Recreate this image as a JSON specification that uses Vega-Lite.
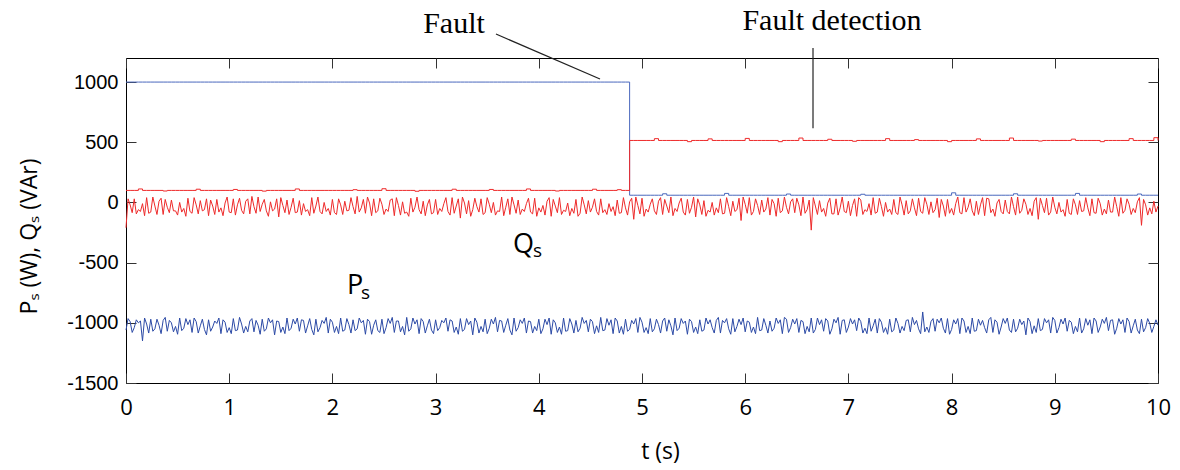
{
  "$schema": "https://vega.github.io/schema/vega-lite/v6.json",
  "width": 1032,
  "height": 325,
  "autosize": {"type": "none"},
  "padding": {"left": 126, "top": 58, "right": 22, "bottom": 87},
  "background": "white",
  "config": {"view": {"stroke": "black", "strokeWidth": 1}},
  "resolve": {"axis": {"x": "independent", "y": "independent"}},
  "datasets": {
    "main": [
{"t":0,"a":1000,"b":100,"q":-210,"p":-1060},
{"t":0.04,"a":1000,"b":100,"q":-20,"p":-990},
{"t":0.08,"a":1000,"b":100,"q":30,"p":-1040},
{"t":0.12,"a":1000,"b":112,"q":-60,"p":-1000},
{"t":0.16,"a":1000,"b":100,"q":-10,"p":-1150},
{"t":0.2,"a":1000,"b":100,"q":40,"p":-1010},
{"t":0.24,"a":1000,"b":100,"q":-80,"p":-970},
{"t":0.28,"a":1000,"b":100,"q":-30,"p":-1050},
{"t":0.32,"a":1000,"b":100,"q":10,"p":-1020},
{"t":0.36,"a":1000,"b":95,"q":-100,"p":-980},
{"t":0.4,"a":1000,"b":100,"q":-40,"p":-1070},
{"t":0.44,"a":1000,"b":100,"q":20,"p":-1000},
{"t":0.48,"a":1000,"b":100,"q":-70,"p":-1030},
{"t":0.52,"a":1000,"b":100,"q":0,"p":-960},
{"t":0.56,"a":1000,"b":100,"q":-50,"p":-1045},
{"t":0.6,"a":1000,"b":100,"q":35,"p":-1015},
{"t":0.64,"a":1000,"b":100,"q":-90,"p":-1080},
{"t":0.68,"a":1000,"b":110,"q":-20,"p":-990},
{"t":0.72,"a":1000,"b":100,"q":15,"p":-1025},
{"t":0.76,"a":1000,"b":100,"q":-60,"p":-1055},
{"t":0.8,"a":1000,"b":100,"q":-110,"p":-975},
{"t":0.84,"a":1000,"b":100,"q":-30,"p":-1035},
{"t":0.88,"a":1000,"b":100,"q":25,"p":-1005},
{"t":0.92,"a":1000,"b":100,"q":-45,"p":-1090},
{"t":0.96,"a":1000,"b":100,"q":-5,"p":-995},
{"t":1,"a":1000,"b":100,"q":-80,"p":-1040},
{"t":1.04,"a":1000,"b":108,"q":30,"p":-965},
{"t":1.08,"a":1000,"b":100,"q":-20,"p":-1060},
{"t":1.12,"a":1000,"b":100,"q":-65,"p":-1010},
{"t":1.16,"a":1000,"b":100,"q":10,"p":-1030},
{"t":1.2,"a":1000,"b":100,"q":-95,"p":-985},
{"t":1.24,"a":1000,"b":100,"q":-35,"p":-1075},
{"t":1.28,"a":1000,"b":100,"q":45,"p":-1020},
{"t":1.32,"a":1000,"b":94,"q":-15,"p":-970},
{"t":1.36,"a":1000,"b":100,"q":-70,"p":-1050},
{"t":1.4,"a":1000,"b":100,"q":5,"p":-1000},
{"t":1.44,"a":1000,"b":100,"q":-55,"p":-1100},
{"t":1.48,"a":1000,"b":100,"q":-120,"p":-990},
{"t":1.52,"a":1000,"b":100,"q":-25,"p":-1035},
{"t":1.56,"a":1000,"b":100,"q":20,"p":-960},
{"t":1.6,"a":1000,"b":100,"q":-40,"p":-1045},
{"t":1.64,"a":1000,"b":112,"q":-85,"p":-1010},
{"t":1.68,"a":1000,"b":100,"q":15,"p":-1070},
{"t":1.72,"a":1000,"b":100,"q":-10,"p":-980},
{"t":1.76,"a":1000,"b":100,"q":-60,"p":-1025},
{"t":1.8,"a":1000,"b":100,"q":40,"p":-1055},
{"t":1.84,"a":1000,"b":100,"q":-30,"p":-970},
{"t":1.88,"a":1000,"b":100,"q":-75,"p":-1040},
{"t":1.92,"a":1000,"b":100,"q":0,"p":-1005},
{"t":1.96,"a":1000,"b":100,"q":-50,"p":-1085},
{"t":2,"a":1000,"b":100,"q":25,"p":-995},
{"t":2.04,"a":1000,"b":100,"q":-100,"p":-1030},
{"t":2.08,"a":1000,"b":100,"q":-20,"p":-960},
{"t":2.12,"a":1000,"b":100,"q":10,"p":-1060},
{"t":2.16,"a":1000,"b":100,"q":-65,"p":-1015},
{"t":2.2,"a":1000,"b":106,"q":-35,"p":-975},
{"t":2.24,"a":1000,"b":100,"q":50,"p":-1050},
{"t":2.28,"a":1000,"b":100,"q":-45,"p":-1000},
{"t":2.32,"a":1000,"b":100,"q":-90,"p":-1095},
{"t":2.36,"a":1000,"b":100,"q":-5,"p":-990},
{"t":2.4,"a":1000,"b":100,"q":30,"p":-1020},
{"t":2.44,"a":1000,"b":100,"q":-70,"p":-1065},
{"t":2.48,"a":1000,"b":114,"q":-15,"p":-970},
{"t":2.52,"a":1000,"b":100,"q":-55,"p":-1040},
{"t":2.56,"a":1000,"b":100,"q":20,"p":-1005},
{"t":2.6,"a":1000,"b":100,"q":-110,"p":-1080},
{"t":2.64,"a":1000,"b":100,"q":-25,"p":-985},
{"t":2.68,"a":1000,"b":100,"q":5,"p":-1030},
{"t":2.72,"a":1000,"b":100,"q":-80,"p":-955},
{"t":2.76,"a":1000,"b":100,"q":35,"p":-1050},
{"t":2.8,"a":1000,"b":93,"q":-40,"p":-1010},
{"t":2.84,"a":1000,"b":100,"q":-60,"p":-1090},
{"t":2.88,"a":1000,"b":100,"q":10,"p":-990},
{"t":2.92,"a":1000,"b":100,"q":-20,"p":-1025},
{"t":2.96,"a":1000,"b":100,"q":-95,"p":-1060},
{"t":3,"a":1000,"b":100,"q":25,"p":-975},
{"t":3.04,"a":1000,"b":100,"q":-50,"p":-1040},
{"t":3.08,"a":1000,"b":100,"q":-10,"p":-1000},
{"t":3.12,"a":1000,"b":100,"q":-75,"p":-1070},
{"t":3.16,"a":1000,"b":110,"q":40,"p":-985},
{"t":3.2,"a":1000,"b":100,"q":-30,"p":-1035},
{"t":3.24,"a":1000,"b":100,"q":-130,"p":-965},
{"t":3.28,"a":1000,"b":100,"q":-5,"p":-1055},
{"t":3.32,"a":1000,"b":100,"q":15,"p":-1015},
{"t":3.36,"a":1000,"b":100,"q":-60,"p":-1100},
{"t":3.4,"a":1000,"b":100,"q":-35,"p":-995},
{"t":3.44,"a":1000,"b":100,"q":30,"p":-1030},
{"t":3.48,"a":1000,"b":100,"q":-85,"p":-970},
{"t":3.52,"a":1000,"b":108,"q":-15,"p":-1045},
{"t":3.56,"a":1000,"b":100,"q":0,"p":-1010},
{"t":3.6,"a":1000,"b":100,"q":-70,"p":-1075},
{"t":3.64,"a":1000,"b":100,"q":45,"p":-985},
{"t":3.68,"a":1000,"b":100,"q":-40,"p":-1020},
{"t":3.72,"a":1000,"b":100,"q":-100,"p":-1060},
{"t":3.76,"a":1000,"b":100,"q":-20,"p":-960},
{"t":3.8,"a":1000,"b":100,"q":20,"p":-1040},
{"t":3.84,"a":1000,"b":100,"q":-55,"p":-1005},
{"t":3.88,"a":1000,"b":112,"q":-10,"p":-1085},
{"t":3.92,"a":1000,"b":100,"q":-80,"p":-990},
{"t":3.96,"a":1000,"b":100,"q":35,"p":-1030},
{"t":4,"a":1000,"b":100,"q":-45,"p":-970},
{"t":4.04,"a":1000,"b":100,"q":-25,"p":-1050},
{"t":4.08,"a":1000,"b":100,"q":10,"p":-1015},
{"t":4.12,"a":1000,"b":100,"q":-115,"p":-1095},
{"t":4.16,"a":1000,"b":95,"q":-30,"p":-1000},
{"t":4.2,"a":1000,"b":100,"q":40,"p":-1035},
{"t":4.24,"a":1000,"b":100,"q":-65,"p":-960},
{"t":4.28,"a":1000,"b":100,"q":-5,"p":-1065},
{"t":4.32,"a":1000,"b":100,"q":-50,"p":-1010},
{"t":4.36,"a":1000,"b":100,"q":25,"p":-980},
{"t":4.4,"a":1000,"b":100,"q":-90,"p":-1045},
{"t":4.44,"a":1000,"b":100,"q":-20,"p":-1005},
{"t":4.48,"a":1000,"b":100,"q":15,"p":-1075},
{"t":4.52,"a":1000,"b":110,"q":-40,"p":-990},
{"t":4.56,"a":1000,"b":100,"q":-75,"p":-1025},
{"t":4.6,"a":1000,"b":100,"q":30,"p":-955},
{"t":4.64,"a":1000,"b":100,"q":-60,"p":-1060},
{"t":4.68,"a":1000,"b":100,"q":-10,"p":-1020},
{"t":4.72,"a":1000,"b":100,"q":-35,"p":-1090},
{"t":4.76,"a":1000,"b":106,"q":20,"p":-985},
{"t":4.8,"a":1000,"b":100,"q":-85,"p":-1030},
{"t":4.84,"a":1000,"b":100,"q":-45,"p":-970},
{"t":4.88,"a":60,"b":515,"q":5,"p":-1055},
{"t":4.92,"a":60,"b":515,"q":-140,"p":-1010},
{"t":4.96,"a":60,"b":515,"q":-25,"p":-1080},
{"t":5,"a":60,"b":515,"q":35,"p":-995},
{"t":5.04,"a":60,"b":515,"q":-55,"p":-1040},
{"t":5.08,"a":60,"b":515,"q":-15,"p":-965},
{"t":5.12,"a":60,"b":530,"q":-70,"p":-1050},
{"t":5.16,"a":60,"b":515,"q":10,"p":-1015},
{"t":5.2,"a":72,"b":515,"q":-100,"p":-985},
{"t":5.24,"a":60,"b":515,"q":-30,"p":-1070},
{"t":5.28,"a":60,"b":515,"q":45,"p":-1025},
{"t":5.32,"a":60,"b":515,"q":-50,"p":-960},
{"t":5.36,"a":60,"b":515,"q":-5,"p":-1045},
{"t":5.4,"a":60,"b":515,"q":-80,"p":-1005},
{"t":5.44,"a":60,"b":505,"q":25,"p":-1095},
{"t":5.48,"a":60,"b":515,"q":-40,"p":-990},
{"t":5.52,"a":60,"b":515,"q":-120,"p":-1035},
{"t":5.56,"a":60,"b":515,"q":-20,"p":-975},
{"t":5.6,"a":60,"b":515,"q":15,"p":-1060},
{"t":5.64,"a":60,"b":528,"q":-65,"p":-1010},
{"t":5.68,"a":60,"b":515,"q":0,"p":-1040},
{"t":5.72,"a":60,"b":515,"q":-45,"p":-980},
{"t":5.76,"a":60,"b":515,"q":30,"p":-1085},
{"t":5.8,"a":75,"b":515,"q":-90,"p":-1000},
{"t":5.84,"a":60,"b":515,"q":-35,"p":-1050},
{"t":5.88,"a":60,"b":515,"q":10,"p":-965},
{"t":5.92,"a":60,"b":515,"q":-60,"p":-1030},
{"t":5.96,"a":60,"b":515,"q":-150,"p":-1015},
{"t":6,"a":60,"b":532,"q":-15,"p":-1075},
{"t":6.04,"a":60,"b":515,"q":40,"p":-995},
{"t":6.08,"a":60,"b":515,"q":-75,"p":-1035},
{"t":6.12,"a":60,"b":515,"q":-25,"p":-955},
{"t":6.16,"a":60,"b":515,"q":20,"p":-1060},
{"t":6.2,"a":60,"b":515,"q":-55,"p":-1020},
{"t":6.24,"a":60,"b":515,"q":-105,"p":-985},
{"t":6.28,"a":60,"b":515,"q":-10,"p":-1045},
{"t":6.32,"a":60,"b":505,"q":35,"p":-1005},
{"t":6.36,"a":60,"b":515,"q":-70,"p":-1090},
{"t":6.4,"a":70,"b":515,"q":-40,"p":-970},
{"t":6.44,"a":60,"b":515,"q":5,"p":-1040},
{"t":6.48,"a":60,"b":515,"q":-85,"p":-1010},
{"t":6.52,"a":60,"b":535,"q":-20,"p":-1080},
{"t":6.56,"a":60,"b":515,"q":45,"p":-990},
{"t":6.6,"a":60,"b":515,"q":-60,"p":-1030},
{"t":6.64,"a":60,"b":515,"q":-230,"p":-960},
{"t":6.68,"a":60,"b":515,"q":-30,"p":-1055},
{"t":6.72,"a":60,"b":515,"q":15,"p":-1015},
{"t":6.76,"a":60,"b":515,"q":-50,"p":-1070},
{"t":6.8,"a":60,"b":525,"q":-5,"p":-985},
{"t":6.84,"a":60,"b":515,"q":-95,"p":-1050},
{"t":6.88,"a":60,"b":515,"q":30,"p":-1000},
{"t":6.92,"a":60,"b":515,"q":-45,"p":-1095},
{"t":6.96,"a":60,"b":515,"q":-75,"p":-975},
{"t":7,"a":60,"b":515,"q":10,"p":-1035},
{"t":7.04,"a":60,"b":508,"q":-25,"p":-1010},
{"t":7.08,"a":60,"b":515,"q":-115,"p":-1065},
{"t":7.12,"a":68,"b":515,"q":20,"p":-990},
{"t":7.16,"a":60,"b":515,"q":-60,"p":-1045},
{"t":7.2,"a":60,"b":515,"q":-10,"p":-960},
{"t":7.24,"a":60,"b":515,"q":40,"p":-1025},
{"t":7.28,"a":60,"b":515,"q":-80,"p":-1085},
{"t":7.32,"a":60,"b":515,"q":-35,"p":-995},
{"t":7.36,"a":60,"b":530,"q":0,"p":-1040},
{"t":7.4,"a":60,"b":515,"q":-55,"p":-970},
{"t":7.44,"a":60,"b":515,"q":25,"p":-1060},
{"t":7.48,"a":60,"b":515,"q":-100,"p":-1005},
{"t":7.52,"a":60,"b":515,"q":-20,"p":-1030},
{"t":7.56,"a":60,"b":515,"q":15,"p":-980},
{"t":7.6,"a":60,"b":515,"q":-70,"p":-1075},
{"t":7.64,"a":60,"b":522,"q":-45,"p":-1015},
{"t":7.68,"a":60,"b":515,"q":35,"p":-1050},
{"t":7.72,"a":60,"b":515,"q":-90,"p":-910},
{"t":7.76,"a":60,"b":515,"q":-15,"p":-1035},
{"t":7.8,"a":60,"b":515,"q":5,"p":-990},
{"t":7.84,"a":60,"b":515,"q":-60,"p":-1070},
{"t":7.88,"a":60,"b":515,"q":-125,"p":-1000},
{"t":7.92,"a":60,"b":515,"q":-30,"p":-1045},
{"t":7.96,"a":60,"b":505,"q":25,"p":-965},
{"t":8,"a":80,"b":515,"q":-50,"p":-1055},
{"t":8.04,"a":60,"b":515,"q":-10,"p":-1010},
{"t":8.08,"a":60,"b":515,"q":-85,"p":-1090},
{"t":8.12,"a":60,"b":515,"q":40,"p":-985},
{"t":8.16,"a":60,"b":515,"q":-40,"p":-1030},
{"t":8.2,"a":60,"b":515,"q":-70,"p":-960},
{"t":8.24,"a":60,"b":528,"q":10,"p":-1065},
{"t":8.28,"a":60,"b":515,"q":-20,"p":-1020},
{"t":8.32,"a":60,"b":515,"q":-110,"p":-1040},
{"t":8.36,"a":60,"b":515,"q":30,"p":-975},
{"t":8.4,"a":60,"b":515,"q":-55,"p":-1080},
{"t":8.44,"a":60,"b":515,"q":-5,"p":-995},
{"t":8.48,"a":60,"b":515,"q":-75,"p":-1035},
{"t":8.52,"a":60,"b":515,"q":20,"p":-1005},
{"t":8.56,"a":60,"b":535,"q":-95,"p":-1060},
{"t":8.6,"a":72,"b":515,"q":-35,"p":-970},
{"t":8.64,"a":60,"b":515,"q":45,"p":-1045},
{"t":8.68,"a":60,"b":515,"q":-65,"p":-1015},
{"t":8.72,"a":60,"b":515,"q":-15,"p":-1100},
{"t":8.76,"a":60,"b":515,"q":-50,"p":-990},
{"t":8.8,"a":60,"b":515,"q":10,"p":-1025},
{"t":8.84,"a":60,"b":510,"q":-140,"p":-965},
{"t":8.88,"a":60,"b":515,"q":-25,"p":-1055},
{"t":8.92,"a":60,"b":515,"q":35,"p":-1000},
{"t":8.96,"a":60,"b":515,"q":-80,"p":-1085},
{"t":9,"a":60,"b":515,"q":-40,"p":-980},
{"t":9.04,"a":60,"b":515,"q":0,"p":-1040},
{"t":9.08,"a":60,"b":515,"q":-60,"p":-1010},
{"t":9.12,"a":60,"b":515,"q":25,"p":-1070},
{"t":9.16,"a":60,"b":526,"q":-100,"p":-995},
{"t":9.2,"a":75,"b":515,"q":-20,"p":-1030},
{"t":9.24,"a":60,"b":515,"q":15,"p":-960},
{"t":9.28,"a":60,"b":515,"q":-70,"p":-1050},
{"t":9.32,"a":60,"b":515,"q":-45,"p":-1020},
{"t":9.36,"a":60,"b":515,"q":30,"p":-1090},
{"t":9.4,"a":60,"b":515,"q":-90,"p":-985},
{"t":9.44,"a":60,"b":505,"q":-10,"p":-1035},
{"t":9.48,"a":60,"b":515,"q":-55,"p":-1005},
{"t":9.52,"a":60,"b":515,"q":20,"p":-1065},
{"t":9.56,"a":60,"b":515,"q":-80,"p":-975},
{"t":9.6,"a":60,"b":515,"q":-35,"p":-1045},
{"t":9.64,"a":60,"b":515,"q":40,"p":-1010},
{"t":9.68,"a":60,"b":515,"q":-65,"p":-1080},
{"t":9.72,"a":60,"b":530,"q":-15,"p":-990},
{"t":9.76,"a":60,"b":515,"q":-50,"p":-1025},
{"t":9.8,"a":70,"b":515,"q":5,"p":-1060},
{"t":9.84,"a":60,"b":515,"q":-190,"p":-970},
{"t":9.88,"a":60,"b":515,"q":-20,"p":-1040},
{"t":9.92,"a":60,"b":515,"q":-45,"p":-1005},
{"t":9.96,"a":60,"b":538,"q":10,"p":-1030},
{"t":10,"a":60,"b":515,"q":-30,"p":-1020},
{"t":0.02,"q":30,"p":-965},{"t":0.06,"q":-85,"p":-1080},{"t":0.1,"q":-95,"p":-975},{"t":0.14,"q":-75,"p":-985},{"t":0.18,"q":-110,"p":-960},{"t":0.22,"q":-90,"p":-1085},{"t":0.26,"q":45,"p":-1070},{"t":0.3,"q":-100,"p":-970},{"t":0.34,"q":35,"p":-1090},{"t":0.38,"q":25,"p":-955},
{"t":0.42,"q":-85,"p":-980},{"t":0.46,"q":-70,"p":-1075},{"t":0.5,"q":-105,"p":-1095},{"t":0.54,"q":-80,"p":-1065},{"t":0.58,"q":-115,"p":-965},{"t":0.62,"q":-75,"p":-975},{"t":0.66,"q":40,"p":-960},{"t":0.7,"q":-95,"p":-1085},{"t":0.74,"q":-70,"p":-970},{"t":0.78,"q":30,"p":-1100},
{"t":0.82,"q":20,"p":-1070},{"t":0.86,"q":-100,"p":-985},{"t":0.9,"q":-80,"p":-960},{"t":0.94,"q":-110,"p":-975},{"t":0.98,"q":45,"p":-1080},{"t":1.02,"q":-85,"p":-1090},{"t":1.06,"q":-105,"p":-1065},{"t":1.1,"q":35,"p":-955},{"t":1.14,"q":-95,"p":-1085},{"t":1.18,"q":30,"p":-1075},
{"t":1.22,"q":50,"p":-965},{"t":1.26,"q":-90,"p":-980},{"t":1.3,"q":-75,"p":-1095},{"t":1.34,"q":25,"p":-1070},{"t":1.38,"q":-115,"p":-960},{"t":1.42,"q":-70,"p":-975},{"t":1.46,"q":30,"p":-985},{"t":1.5,"q":40,"p":-1080},{"t":1.54,"q":-85,"p":-1090},{"t":1.58,"q":-100,"p":-1065},
{"t":1.62,"q":35,"p":-970},{"t":1.66,"q":-80,"p":-960},{"t":1.7,"q":-105,"p":-975},{"t":1.74,"q":-75,"p":-1085},{"t":1.78,"q":-110,"p":-965},{"t":1.82,"q":-90,"p":-1100},{"t":1.86,"q":45,"p":-1075},{"t":1.9,"q":-95,"p":-980},{"t":1.94,"q":-75,"p":-955},{"t":1.98,"q":-105,"p":-970},
{"t":2.02,"q":-85,"p":-1080},{"t":2.06,"q":30,"p":-1090},{"t":2.1,"q":-100,"p":-1070},{"t":2.14,"q":-70,"p":-965},{"t":2.18,"q":40,"p":-1085},{"t":2.22,"q":-95,"p":-1065},{"t":2.26,"q":-80,"p":-960},{"t":2.3,"q":25,"p":-980},{"t":2.34,"q":45,"p":-970},{"t":2.38,"q":-110,"p":-1095},
{"t":2.42,"q":-85,"p":-975},{"t":2.46,"q":35,"p":-1080},{"t":2.5,"q":-100,"p":-1090},{"t":2.54,"q":-75,"p":-965},{"t":2.58,"q":30,"p":-955},{"t":2.62,"q":40,"p":-985},{"t":2.66,"q":-105,"p":-1075},{"t":2.7,"q":-90,"p":-1100},{"t":2.74,"q":-115,"p":-1070},{"t":2.78,"q":-80,"p":-960},
{"t":2.82,"q":45,"p":-975},{"t":2.86,"q":-95,"p":-965},{"t":2.9,"q":-110,"p":-1085},{"t":2.94,"q":25,"p":-970},{"t":2.98,"q":-85,"p":-1090},{"t":3.02,"q":-100,"p":-1065},{"t":3.06,"q":-75,"p":-980},{"t":3.1,"q":40,"p":-960},{"t":3.14,"q":-105,"p":-975},{"t":3.18,"q":-90,"p":-1080},
{"t":3.22,"q":30,"p":-1095},{"t":3.26,"q":45,"p":-1070},{"t":3.3,"q":-95,"p":-965},{"t":3.34,"q":-115,"p":-985},{"t":3.38,"q":35,"p":-960},{"t":3.42,"q":-80,"p":-1085},{"t":3.46,"q":-100,"p":-1075},{"t":3.5,"q":40,"p":-1090},{"t":3.54,"q":-85,"p":-970},{"t":3.58,"q":-105,"p":-955},
{"t":3.62,"q":-75,"p":-980},{"t":3.66,"q":-110,"p":-1080},{"t":3.7,"q":30,"p":-965},{"t":3.74,"q":45,"p":-1100},{"t":3.78,"q":-90,"p":-1070},{"t":3.82,"q":-100,"p":-975},{"t":3.86,"q":-75,"p":-960},{"t":3.9,"q":35,"p":-985},{"t":3.94,"q":-95,"p":-1085},{"t":3.98,"q":-115,"p":-1065},
{"t":4.02,"q":-80,"p":-1090},{"t":4.06,"q":-105,"p":-970},{"t":4.1,"q":40,"p":-960},{"t":4.14,"q":25,"p":-975},{"t":4.18,"q":-85,"p":-1080},{"t":4.22,"q":-100,"p":-1095},{"t":4.26,"q":-75,"p":-1070},{"t":4.3,"q":-110,"p":-965},{"t":4.34,"q":-90,"p":-1085},{"t":4.38,"q":-115,"p":-1075},
{"t":4.42,"q":45,"p":-955},{"t":4.46,"q":-95,"p":-980},{"t":4.5,"q":-80,"p":-970},{"t":4.54,"q":30,"p":-1090},{"t":4.58,"q":-105,"p":-1080},{"t":4.62,"q":-85,"p":-1065},{"t":4.66,"q":-100,"p":-965},{"t":4.7,"q":-75,"p":-975},{"t":4.74,"q":-110,"p":-960},{"t":4.78,"q":-90,"p":-1085},
{"t":4.82,"q":40,"p":-1095},{"t":4.86,"q":-105,"p":-1070},{"t":4.9,"q":35,"p":-980},{"t":4.94,"q":45,"p":-965},{"t":4.98,"q":-95,"p":-955},{"t":5.02,"q":-115,"p":-1080},{"t":5.06,"q":-80,"p":-1090},{"t":5.1,"q":30,"p":-1075},{"t":5.14,"q":-100,"p":-970},{"t":5.18,"q":40,"p":-1085},
{"t":5.22,"q":25,"p":-960},{"t":5.26,"q":-85,"p":-975},{"t":5.3,"q":-110,"p":-1100},{"t":5.34,"q":-75,"p":-1065},{"t":5.38,"q":35,"p":-965},{"t":5.42,"q":-105,"p":-985},{"t":5.46,"q":-90,"p":-970},{"t":5.5,"q":45,"p":-1080},{"t":5.54,"q":30,"p":-1090},{"t":5.58,"q":-100,"p":-1070},
{"t":5.62,"q":-115,"p":-960},{"t":5.66,"q":-80,"p":-975},{"t":5.7,"q":-105,"p":-1085},{"t":5.74,"q":-85,"p":-955},{"t":5.78,"q":-95,"p":-980},{"t":5.82,"q":40,"p":-965},{"t":5.86,"q":-110,"p":-1095},{"t":5.9,"q":-75,"p":-1075},{"t":5.94,"q":35,"p":-970},{"t":5.98,"q":45,"p":-960},
{"t":6.02,"q":-90,"p":-985},{"t":6.06,"q":-105,"p":-1080},{"t":6.1,"q":30,"p":-1090},{"t":6.14,"q":-100,"p":-1065},{"t":6.18,"q":-80,"p":-965},{"t":6.22,"q":40,"p":-1085},{"t":6.26,"q":25,"p":-1070},{"t":6.3,"q":-115,"p":-960},{"t":6.34,"q":-85,"p":-975},{"t":6.38,"q":45,"p":-955},
{"t":6.42,"q":-95,"p":-1080},{"t":6.46,"q":30,"p":-970},{"t":6.5,"q":35,"p":-965},{"t":6.54,"q":-110,"p":-980},{"t":6.58,"q":-90,"p":-1090},{"t":6.62,"q":20,"p":-1075},{"t":6.66,"q":40,"p":-1085},{"t":6.7,"q":-100,"p":-960},{"t":6.74,"q":-80,"p":-975},{"t":6.78,"q":-115,"p":-965},
{"t":6.82,"q":35,"p":-1095},{"t":6.86,"q":-95,"p":-970},{"t":6.9,"q":-105,"p":-955},{"t":6.94,"q":45,"p":-980},{"t":6.98,"q":-85,"p":-1080},{"t":7.02,"q":-110,"p":-965},{"t":7.06,"q":30,"p":-975},{"t":7.1,"q":40,"p":-960},{"t":7.14,"q":-100,"p":-1085},{"t":7.18,"q":-75,"p":-1090},
{"t":7.22,"q":-105,"p":-1070},{"t":7.26,"q":-90,"p":-970},{"t":7.3,"q":35,"p":-965},{"t":7.34,"q":-115,"p":-1080},{"t":7.38,"q":-80,"p":-1095},{"t":7.42,"q":-100,"p":-1075},{"t":7.46,"q":-85,"p":-960},{"t":7.5,"q":45,"p":-1085},{"t":7.54,"q":-105,"p":-1065},{"t":7.58,"q":-95,"p":-975},
{"t":7.62,"q":30,"p":-955},{"t":7.66,"q":-110,"p":-980},{"t":7.7,"q":-75,"p":-1090},{"t":7.74,"q":40,"p":-1075},{"t":7.78,"q":-100,"p":-1080},{"t":7.82,"q":-85,"p":-965},{"t":7.86,"q":35,"p":-970},{"t":7.9,"q":25,"p":-960},{"t":7.94,"q":-115,"p":-1085},{"t":7.98,"q":-90,"p":-1095},
{"t":8.02,"q":-105,"p":-975},{"t":8.06,"q":45,"p":-965},{"t":8.1,"q":-95,"p":-960},{"t":8.14,"q":-80,"p":-1080},{"t":8.18,"q":30,"p":-1090},{"t":8.22,"q":-110,"p":-1070},{"t":8.26,"q":-100,"p":-970},{"t":8.3,"q":40,"p":-980},{"t":8.34,"q":35,"p":-1085},{"t":8.38,"q":-85,"p":-955},
{"t":8.42,"q":-115,"p":-975},{"t":8.46,"q":25,"p":-1095},{"t":8.5,"q":-95,"p":-965},{"t":8.54,"q":-75,"p":-960},{"t":8.58,"q":45,"p":-1080},{"t":8.62,"q":-105,"p":-1075},{"t":8.66,"q":-90,"p":-970},{"t":8.7,"q":30,"p":-985},{"t":8.74,"q":-100,"p":-960},{"t":8.78,"q":-110,"p":-1090},
{"t":8.82,"q":40,"p":-1080},{"t":8.86,"q":35,"p":-1065},{"t":8.9,"q":-85,"p":-965},{"t":8.94,"q":-105,"p":-975},{"t":8.98,"q":45,"p":-955},{"t":9.02,"q":-95,"p":-1085},{"t":9.06,"q":-80,"p":-970},{"t":9.1,"q":-115,"p":-960},{"t":9.14,"q":-90,"p":-980},{"t":9.18,"q":30,"p":-1090},
{"t":9.22,"q":-100,"p":-1075},{"t":9.26,"q":-75,"p":-1085},{"t":9.3,"q":40,"p":-965},{"t":9.34,"q":-110,"p":-975},{"t":9.38,"q":-85,"p":-960},{"t":9.42,"q":35,"p":-1080},{"t":9.46,"q":-105,"p":-970},{"t":9.5,"q":-95,"p":-955},{"t":9.54,"q":-80,"p":-980},{"t":9.58,"q":45,"p":-1095},
{"t":9.62,"q":-115,"p":-965},{"t":9.66,"q":-90,"p":-975},{"t":9.7,"q":30,"p":-960},{"t":9.74,"q":-100,"p":-1085},{"t":9.78,"q":-85,"p":-970},{"t":9.82,"q":40,"p":-1090},{"t":9.86,"q":25,"p":-1075},{"t":9.9,"q":-105,"p":-965},{"t":9.94,"q":-95,"p":-1080},{"t":9.98,"q":-80,"p":-975}
    ]
  },
  "layer": [
    {
      "data": {"name": "main"},
      "transform": [{"filter": "isValid(datum.a)"}, {"fold": ["a", "b"], "as": ["s", "v"]}],
      "mark": {"type": "line", "interpolate": "step-after", "strokeWidth": 1},
      "encoding": {
        "x": {"field": "t", "type": "quantitative", "scale": {"domain": [0, 10], "nice": false}, "axis": null},
        "y": {"field": "v", "type": "quantitative", "scale": {"domain": [-1500, 1200], "nice": false}, "axis": null},
        "color": {"field": "s", "type": "nominal",
                  "scale": {"domain": ["a", "b", "p", "q"], "range": ["#4a68bd", "#ee2a2a", "#2c4aa6", "#ee2a2a"]},
                  "legend": null},
        "detail": {"field": "s"}
      }
    },
    {
      "data": {"name": "main"},
      "transform": [{"fold": ["p", "q"], "as": ["s", "v"]}],
      "mark": {"type": "line", "interpolate": "linear", "strokeWidth": 1},
      "encoding": {
        "x": {"field": "t", "type": "quantitative",
              "scale": {"domain": [0, 10], "nice": false},
              "axis": {"orient": "bottom", "values": [0,1,2,3,4,5,6,7,8,9,10], "title": "t (s)",
                       "grid": false, "domain": false, "offset": -10,
                       "tickColor": "#333", "tickSize": 10, "tickWidth": 1,
                       "labelFont": "Open Sans", "labelFontSize": 22, "labelColor": "black",
                       "labelPadding": 14, "labelBaseline": "top", "labelFlush": false,
                       "titleFont": "Open Sans", "titleFontSize": 23, "titleFontWeight": "normal",
                       "titleColor": "black", "titleX": 534, "titleY": 85, "titleBaseline": "alphabetic"}},
        "y": {"field": "v", "type": "quantitative",
              "scale": {"domain": [-1500, 1200], "nice": false},
              "axis": {"orient": "left", "values": [-1500,-1000,-500,0,500,1000], "title": "Pₛ (W), Qₛ (VAr)",
                       "labelExpr": "'' + datum.value",
                       "grid": false, "domain": false, "offset": -10,
                       "tickColor": "#333", "tickSize": 10, "tickWidth": 1,
                       "labelFont": "Liberation Sans", "labelFontSize": 20, "labelColor": "black",
                       "labelPadding": 8, "labelFlush": false,
                       "titleFont": "Open Sans", "titleFontSize": 23, "titleFontWeight": "normal",
                       "titleColor": "black", "titleX": -100, "titleY": 178, "titleAngle": -90,
                       "titleAlign": "center", "titleBaseline": "alphabetic"}},
        "color": {"field": "s", "type": "nominal",
                  "scale": {"domain": ["a", "b", "p", "q"], "range": ["#4a68bd", "#ee2a2a", "#2c4aa6", "#ee2a2a"]},
                  "legend": null},
        "detail": {"field": "s"}
      }
    },
    {
      "data": {"values": [{"t": 0, "v": 0}]},
      "mark": {"type": "point", "opacity": 0},
      "encoding": {
        "x": {"field": "t", "type": "quantitative", "scale": {"domain": [0, 10], "nice": false},
              "axis": {"orient": "top", "values": [0,1,2,3,4,5,6,7,8,9,10], "labels": false, "title": null,
                       "grid": false, "domain": false, "offset": -10, "tickColor": "#333", "tickSize": 10}},
        "y": {"field": "v", "type": "quantitative", "scale": {"domain": [-1500, 1200], "nice": false},
              "axis": {"orient": "right", "values": [-1500,-1000,-500,0,500,1000], "labels": false, "title": null,
                       "grid": false, "domain": false, "offset": -10, "tickColor": "#333", "tickSize": 10}}
      }
    },
    {
      "data": {"values": [
        {"t": 3.585, "v": 1399, "t2": 4.593, "v2": 1025},
        {"t": 6.657, "v": 1283, "t2": 6.657, "v2": 617}
      ]},
      "mark": {"type": "rule", "color": "#222", "strokeWidth": 1.2},
      "encoding": {
        "x": {"field": "t", "type": "quantitative", "axis": null},
        "y": {"field": "v", "type": "quantitative", "axis": null},
        "x2": {"field": "t2"},
        "y2": {"field": "v2"}
      }
    },
    {
      "data": {"values": [
        {"t": 3.178, "v": 1407, "label": "Fault"},
        {"t": 6.841, "v": 1432, "label": "Fault detection"}
      ]},
      "mark": {"type": "text", "font": "Liberation Serif", "fontSize": 30, "align": "center", "baseline": "alphabetic", "color": "black"},
      "encoding": {
        "x": {"field": "t", "type": "quantitative", "axis": null},
        "y": {"field": "v", "type": "quantitative", "axis": null},
        "text": {"field": "label"}
      }
    },
    {
      "data": {"values": [
        {"t": 3.75, "v": -420, "label": "Q"},
        {"t": 2.141, "v": -761, "label": "P"}
      ]},
      "mark": {"type": "text", "font": "Open Sans", "fontSize": 27, "align": "left", "baseline": "alphabetic", "color": "black"},
      "encoding": {
        "x": {"field": "t", "type": "quantitative", "axis": null},
        "y": {"field": "v", "type": "quantitative", "axis": null},
        "text": {"field": "label"}
      }
    },
    {
      "data": {"values": [
        {"t": 3.944, "v": -454, "label": "s"},
        {"t": 2.277, "v": -803, "label": "s"}
      ]},
      "mark": {"type": "text", "font": "Open Sans", "fontSize": 19, "align": "left", "baseline": "alphabetic", "color": "black"},
      "encoding": {
        "x": {"field": "t", "type": "quantitative", "axis": null},
        "y": {"field": "v", "type": "quantitative", "axis": null},
        "text": {"field": "label"}
      }
    }
  ]
}
